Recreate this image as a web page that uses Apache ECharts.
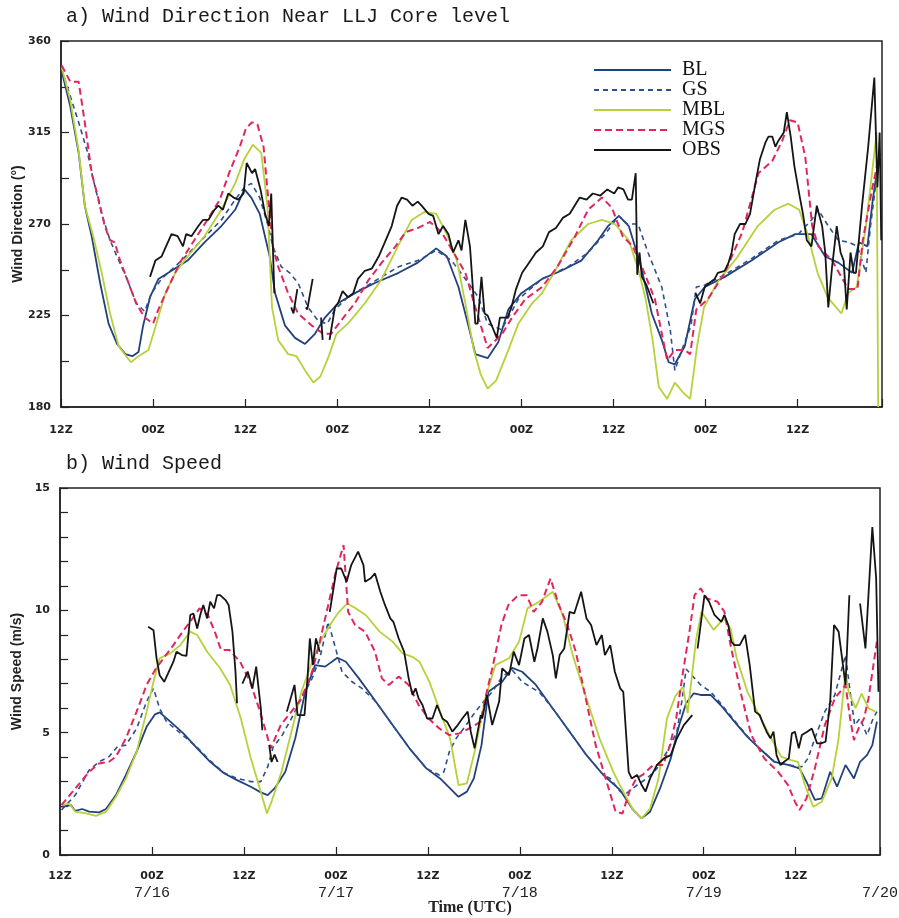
<!DOCTYPE html>
<html>
<head>
<meta charset="utf-8">
<script src="https://cdn.jsdelivr.net/npm/echarts@6/dist/echarts.min.js"></script>
<style>
html,body{margin:0;padding:0;background:#fff;}
#chart{width:899px;height:918px;}
</style>
</head>
<body>
<div id="chart"></div>
<script>
// ---------- tick labels ----------
const tickHours = [0, 12, 24, 36, 48, 60, 72, 84, 96];
const tickTimes = ['12Z', '00Z', '12Z', '00Z', '12Z', '00Z', '12Z', '00Z', '12Z'];
const tickDates = ['', '7/16', '', '7/17', '', '7/18', '', '7/19', ''];
const endHour = 107;
const endDate = '7/20';
const seriesNames = ['BL', 'GS', 'MBL', 'MGS', 'OBS'];

// ---------- a) wind direction (deg) : [hour since 7/15 12Z, value] ----------
const dirBL = [[0.1,345],[1.2,328],[2.3,305],[3.1,279],[4,264],[5.1,241],[6.2,221],[7.3,211],[8.4,206],[9.3,205],[10.1,207],[10.7,220],[11.6,234],[12.7,243],[14.4,247],[16.5,252],[18.7,261],[20.9,269],[22.7,277],[23.9,287],[24.8,283],[25.9,275],[27.2,254],[27.9,236],[29.2,220],[30.5,214],[31.8,211],[33.1,216],[34.4,224],[36.1,231],[38.3,236],[40.9,241],[44,246],[46.5,251],[48.9,258],[50.3,254],[51.8,239],[53.1,220],[54,206],[55.6,204],[57,212],[58.3,228],[60,236],[62.7,243],[65.2,247],[67.8,252],[70,262],[71.3,269],[72.7,274],[74,269],[75.6,249],[77,226],[78.3,213],[79.2,202],[80,201],[81.3,210],[82.6,233],[83.9,239],[86.5,244],[90,252],[93.5,261],[95.7,265],[97.8,265],[99.6,254],[101.3,251],[103.1,246],[104,261],[105.1,259],[105.8,282],[106.7,305]];
const dirGS = [[0.1,346],[1.2,333],[2.3,320],[3.4,306],[4.2,292],[5.3,275],[6.4,262],[7.3,254],[8.6,243],[9.8,231],[10.9,227],[11.8,236],[13.1,243],[15.7,252],[18.3,262],[20.9,272],[22.7,282],[23.9,288],[24.8,290],[25.9,283],[27,269],[27.6,259],[28.7,249],[29.8,246],[30.9,241],[32.2,229],[33.6,222],[34.7,221],[35.7,228],[37.4,234],[39.6,239],[44,249],[46.5,252],[48.9,257],[50.9,252],[52.7,243],[54.4,234],[55.6,221],[57.4,218],[58.3,224],[59.6,233],[62.7,243],[66.1,249],[68.7,256],[70.9,265],[72.7,274],[73.8,270],[75.2,270],[76.5,256],[78.3,239],[79.4,218],[80,198],[81.1,210],[82.1,220],[82.8,239],[83.9,240],[86.5,245],[90,253],[93.5,262],[96.1,265],[97.8,272],[98.7,277],[100,269],[101.3,262],[102.7,261],[103.8,259],[104.9,246],[105.5,269],[106.1,287],[106.7,303]];
const dirMBL = [[0.1,347],[1.2,331],[2.3,306],[3.1,279],[4.2,264],[5.3,246],[6.4,226],[7.5,210],[9.1,202],[10.1,205],[11.4,208],[12.2,218],[13.6,236],[14.9,246],[16.5,254],[18.7,264],[20.9,277],[22.7,290],[23.9,302],[25,309],[26.1,305],[26.9,279],[27.3,246],[27.5,229],[28.3,213],[29.6,206],[30.7,205],[31.8,198],[32.9,192],[33.8,195],[34.9,205],[35.9,216],[37.4,221],[39.6,231],[41.8,243],[43.9,259],[45.7,272],[47.4,276],[48.9,275],[50.3,265],[51.6,252],[52.7,231],[53.8,208],[54.7,196],[55.6,189],[56.7,193],[58.3,208],[59.6,221],[61.4,231],[62.7,236],[64.4,247],[66.5,262],[68.7,270],[70.5,272],[72.2,270],[74,262],[75.3,247],[76.2,233],[77.1,213],[77.9,190],[79,184],[80,192],[81.1,187],[82,184],[82.9,210],[83.8,229],[85.5,241],[88.2,254],[90.8,269],[93,277],[94.8,280],[96.2,277],[97.3,265],[98.6,246],[99.9,234],[101.7,226],[102.6,236],[103.7,239],[104.9,269],[105.7,295],[106.3,315],[106.5,180]];
const dirMGS = [[0.1,348],[1.2,340],[2.3,340],[3.1,320],[3.6,306],[4,295],[4.9,282],[5.7,269],[6.4,262],[7,261],[7.7,252],[8.8,241],[9.8,231],[10.9,224],[12,221],[12.7,228],[14,239],[15.5,251],[17.2,261],[18.9,271],[20.7,282],[21.9,295],[23.3,308],[24.1,317],[24.9,320],[25.6,319],[26.4,308],[26.9,287],[27.6,259],[28.3,249],[29.6,236],[30.9,226],[32.7,220],[34.2,216],[35.2,216],[36.6,223],[38.3,231],[40,242],[41.8,251],[43.6,259],[44.9,266],[46.5,268],[48.1,271],[49.6,266],[51,257],[52.7,246],[54,229],[55.6,209],[57.5,216],[58.8,224],[60.5,233],[62.7,239],[64.7,249],[67,264],[68.7,277],[70.5,283],[71.8,278],[73.2,264],[74.5,259],[75.7,249],[77.4,233],[79,203],[80,208],[81.3,208],[82,206],[82.8,228],[84.3,233],[86.5,246],[88.8,266],[90.9,295],[92.7,301],[94,311],[95,321],[96,320],[97,303],[97.9,269],[98.7,259],[100.5,252],[102.6,238],[103.8,238],[104.5,262],[105.7,287],[106.7,305]];
const dirOBS = [[11.6,244],[12.3,252],[13.1,254],[14.4,265],[15.2,264],[15.9,259],[16.3,265],[17,264],[17.9,269],[18.5,272],[19.2,272],[20,277],[20.5,279],[21.1,277],[21.8,285],[22.5,283],[23.1,282],[23.8,285],[24.2,300],[24.9,295],[25.3,297],[26,287],[26.6,275],[27.1,269],[27.4,285],[27.8,236],[28.9,'-'],
  [30,229],[30.3,226],[30.8,238],[31.4,'-'],
  [31.9,229],[32.1,228],[32.8,243],[33.3,'-'],
  [33.9,224],[34.1,213],[34.6,'-'],
  [35,213],[35.7,229],[36.1,231],[36.7,237],[37.4,234],[38.1,236],[38.7,243],[39.6,247],[40.5,248],[41.4,254],[42.2,261],[43.1,269],[43.8,279],[44.4,283],[45.1,282],[45.8,279],[46.5,281],[47,279],[47.9,275],[48.5,274],[49.2,265],[49.8,269],[50.5,265],[51.1,256],[51.8,262],[52.2,257],[52.7,272],[53.3,259],[54,221],[54.3,221],[54.8,244],[55.2,226],[55.6,225],[56.8,214],[57.2,224],[58.2,224],[58.7,229],[59.3,238],[60.1,246],[61,251],[61.9,256],[62.8,259],[63.6,266],[64.5,268],[65.4,273],[66.3,275],[67.6,283],[68.5,282],[69.3,285],[70.3,284],[71.2,287],[72.1,285],[72.6,288],[73.3,287],[73.9,282],[74.4,282],[74.9,295],[75.1,245],[75.4,256],[75.7,244],[76.3,240],[77.2,231],[80,'-'],
  [82.7,236],[83.3,231],[83.9,239],[84.5,241],[85.2,243],[85.6,246],[86.5,247],[87,251],[87.4,256],[87.8,265],[88.5,270],[89.2,270],[89.8,275],[90.5,290],[91.1,302],[91.8,310],[92.2,313],[92.7,313],[93.1,308],[93.5,311],[94.2,315],[94.6,325],[95.1,313],[95.6,298],[96.3,283],[96.7,275],[97.2,262],[97.8,259],[98.5,279],[99.2,269],[99.6,256],[100,229],[100.5,249],[101.1,269],[101.6,256],[102,252],[102.4,228],[102.9,256],[103.3,246],[103.6,246],[104.4,279],[105.2,308],[106,342],[106.4,288],[106.7,315],[106.9,262]];

// ---------- b) wind speed (m/s) ----------
const spdBL = [[0.2,1.97],[1.4,2.04],[2,1.8],[2.9,1.88],[3.8,1.77],[5.1,1.74],[6,1.88],[7.3,2.45],[8.6,3.27],[10,4.22],[11.3,5.24],[12.4,5.75],[13,5.83],[14.4,5.45],[16.1,4.97],[17.9,4.36],[19.6,3.81],[21.4,3.34],[23.1,3.06],[24.9,2.79],[26.2,2.56],[27.1,2.45],[28,2.72],[29.4,3.4],[30.7,4.77],[32,6.67],[33.3,7.76],[34.6,7.7],[36.2,8.06],[37.3,7.9],[39,7.22],[41.2,6.27],[43.4,5.31],[45.6,4.36],[47.8,3.54],[49.6,3.13],[50.9,2.72],[52,2.38],[53.1,2.59],[54,3.13],[55,4.49],[55.9,6.67],[57.7,7.08],[59,7.65],[60.3,7.49],[62.1,6.95],[64.3,5.99],[66.5,5.04],[68.7,4.08],[70.9,3.27],[73.1,2.65],[74.8,1.84],[75.9,1.5],[77,1.77],[78.3,2.72],[79.7,3.95],[80.8,5.31],[81.7,6.2],[82.7,6.61],[83.6,6.54],[84.9,6.54],[86.2,6.13],[88,5.45],[89.7,4.83],[91.5,4.29],[93.2,3.81],[95,3.68],[96.5,3.54],[97.4,3],[98.5,2.25],[99.4,2.31],[100.5,3.4],[101.4,2.79],[102.5,3.68],[103.6,3.13],[104.4,3.81],[105.3,4.08],[106,4.49],[106.6,5.45]];
const spdGS = [[0.2,1.84],[2,2.45],[3.8,3.47],[5.1,3.81],[6.4,4.02],[7.5,4.43],[8.6,4.49],[10,5.17],[11.3,6.27],[12.2,6.81],[13,5.99],[13.9,5.45],[15.2,5.11],[17.9,4.4],[19.6,3.85],[21.4,3.36],[23.1,3.13],[24.9,3],[26.2,3],[27.1,3.6],[27.8,4.4],[29,4.9],[30.2,5.58],[31.5,6.4],[32.9,7.22],[33.9,8.04],[35,9.53],[36.8,7.49],[38.1,7.08],[39.4,6.81],[41.2,6.27],[43.4,5.31],[45.6,4.36],[47.8,3.54],[49.5,3.27],[50.1,3.4],[50.8,4.22],[51.7,4.77],[53,5.31],[53.9,5.72],[54.9,6.13],[56.4,6.67],[57.7,7.29],[59,7.56],[60.3,7.08],[61.7,6.81],[62.5,6.67],[64.3,5.99],[66.5,5.04],[68.7,4.08],[70.9,3.27],[71.8,3.13],[73.1,2.59],[73.9,2.52],[75.3,2.86],[76.6,3.13],[77.9,3.54],[79.2,4.22],[80.5,5.04],[81.2,6.4],[81.7,7.6],[83.6,6.95],[84.9,6.67],[86.2,6.2],[88,5.5],[89.7,4.85],[91.5,4.3],[93.2,3.82],[95,3.68],[96.8,3.61],[97.6,3.95],[98.5,4.77],[99.8,5.86],[101.1,6.54],[102.5,8.17],[103.1,6.67],[103.7,5.31],[104.4,5.58],[105.3,4.9],[106.1,5.58],[106.6,5.86]];
const spdMBL = [[0.2,2.04],[1.2,2.1],[2,1.77],[3.4,1.7],[4.7,1.6],[6,1.77],[7.3,2.38],[8.6,3.13],[10,4.22],[11.3,5.86],[12.2,7.08],[13,8.04],[14.4,8.24],[15.7,8.58],[17,9.13],[17.9,8.99],[19.2,8.31],[20.9,7.63],[22.2,6.95],[23.6,5.58],[24.9,3.95],[26.2,2.59],[27,1.7],[27.6,2.18],[28.9,3.4],[30.2,5.04],[31.5,6.67],[32.9,7.9],[34.2,8.85],[35.5,9.53],[36.4,9.94],[37.5,10.28],[38.6,10.08],[39.9,9.81],[41.7,9.13],[43.4,8.72],[44.7,8.24],[46,8.1],[46.9,7.9],[48.2,7.08],[49.6,5.86],[50.9,4.77],[52,2.86],[53.1,2.93],[54.1,4.22],[55.5,6.4],[56.8,7.76],[58.6,8.04],[59.9,8.72],[61,10.08],[62.5,10.35],[64.3,10.76],[65.6,9.81],[66.9,8.17],[68.7,6.4],[70.4,4.77],[72.2,3.4],[73.5,2.59],[74.8,1.84],[75.9,1.5],[77,1.9],[78.1,3.13],[79.2,5.58],[80.3,6.5],[81.3,6.87],[81.9,5.8],[83,8.8],[83.7,9.94],[85.3,9.2],[86.6,9.67],[87.5,9.26],[88.3,8.04],[89.7,6.67],[91,5.86],[92.8,4.77],[94.1,4.02],[95.4,3.88],[96.3,3.81],[97.2,2.86],[98.3,1.97],[99.4,2.18],[100.7,3.13],[101.6,4.77],[102.5,7.49],[102.9,6.67],[103.8,6],[104.6,6.6],[105.5,6],[106.4,5.86]];
const spdMGS = [[0.2,2.04],[2,2.72],[3.8,3.4],[5.1,3.74],[6.4,3.81],[7.3,4.02],[8.6,4.77],[10,5.86],[11.3,6.95],[12.4,7.56],[13.5,8.04],[14.8,8.58],[16,9.13],[17.3,9.67],[18.2,10.08],[19.3,9.81],[20.2,9.13],[21,8.38],[22.1,8.38],[23.5,7.9],[24.8,7.08],[26.1,5.86],[27,4.9],[27.5,4.36],[28.8,5.31],[30.2,5.86],[31.5,6.4],[32.9,7.49],[33.9,8.72],[35,10.22],[36,11.58],[37,12.67],[37.6,9.94],[38.5,9.4],[39.8,9.13],[41.1,8.31],[42,7.22],[42.9,6.95],[44.2,7.29],[45.5,6.95],[46.8,6.13],[48.1,5.58],[49.5,5.17],[50.8,4.9],[52.1,4.97],[53.4,5.17],[54.9,5.45],[55.4,6.27],[56.5,7.76],[57.6,9.4],[58.5,10.22],[59.8,10.62],[60.9,10.62],[61.8,9.94],[62.9,10.35],[64,11.3],[65.1,10.22],[66.2,9.4],[67.3,8.31],[68.6,6.4],[69.9,4.49],[71.2,3.13],[72.5,1.77],[73.4,1.7],[74.3,2.59],[75.2,3.13],[76,3.27],[77.4,3.68],[78.7,3.68],[79.6,4.49],[80.4,5.58],[81.3,7.49],[82.2,9.26],[82.8,10.62],[83.6,10.9],[84.4,10.49],[85.8,10.35],[86.7,9.94],[87.5,8.58],[88.8,6.67],[90.2,4.9],[91.9,3.95],[93.7,3.4],[95,2.86],[95.9,2.18],[96.5,1.84],[97.4,2.31],[98.5,3.54],[99.8,5.31],[101.1,6.4],[102.5,6.95],[103.1,5.58],[103.6,4.7],[104.2,5.17],[104.9,5.58],[105.5,6.4],[106.4,8.31],[106.6,8.72]];
const spdOBS = [[11.5,9.33],[12.2,9.19],[12.6,8.04],[13,7.35],[13.6,7.08],[14.1,7.42],[14.8,7.9],[15.2,8.31],[15.9,8.17],[16.5,8.14],[17,9.81],[17.4,9.87],[17.9,9.26],[18.3,9.81],[18.7,10.22],[19.2,9.67],[19.6,10.35],[20.1,10.08],[20.5,10.62],[20.9,10.62],[21.6,10.42],[22,10.22],[22.5,9.13],[22.9,7.49],[23.1,6.2],[23.5,'-'],
  [23.8,7.0],[24.5,7.5],[25.1,6.8],[25.6,7.7],[26.2,6.0],[26.4,5.1],[26.9,'-'],
  [27.3,4.5],[27.6,3.8],[28,4.1],[28.4,3.8],[29,'-'],
  [29.6,5.86],[30.6,6.95],[31,5.72],[31.9,5.72],[32.3,7.22],[32.6,8.85],[33,7.76],[33.4,8.85],[33.9,8.31],[34.5,'-'],
  [35.2,9.94],[36.1,11.71],[36.7,11.71],[37.4,11.17],[38,11.85],[38.9,12.4],[39.6,11.85],[39.8,11.17],[40.5,11.3],[41.1,11.51],[41.8,10.76],[42.4,10.22],[43.1,9.67],[43.5,9.53],[44.2,8.85],[44.9,8.31],[45.5,7.22],[46,6.54],[46.4,6.81],[46.8,6.4],[47.3,6.13],[47.9,5.58],[48.6,5.58],[49.2,6.13],[49.9,5.58],[50.5,5.45],[51.2,5.04],[51.9,5.31],[52.5,5.58],[53.2,5.86],[53.6,5.04],[54.1,4.36],[54.9,5.72],[55.1,5.58],[55.7,6.54],[56.4,5.31],[57.3,6.27],[57.7,7.63],[58.6,7.35],[59.2,8.31],[59.9,7.76],[60.6,8.85],[61.2,8.99],[61.9,7.9],[62.3,8.44],[63,9.67],[63.6,9.13],[64.3,8.17],[64.7,7.22],[65.2,8.17],[65.8,8.44],[66.5,9.94],[67.1,9.87],[68,10.76],[68.7,9.67],[69.3,9.4],[70,8.58],[70.7,8.99],[71.1,8.17],[71.8,8.58],[72.4,7.49],[73.1,6.81],[73.5,6.67],[74.2,3.4],[74.6,3.13],[75.3,3.27],[75.9,2.86],[76.4,2.59],[77,3.13],[77.9,3.68],[78.8,3.95],[79.7,4.08],[80.5,4.77],[81.4,5.31],[82.5,5.72],[82.9,'-'],
  [83.2,8.44],[84.1,10.62],[84.7,10.35],[85.4,9.81],[86.3,9.53],[86.7,9.81],[87.2,9.4],[87.6,8.72],[88,8.58],[88.7,8.58],[89.4,9],[90,7.76],[90.7,5.86],[91.3,5.72],[91.7,5.4],[92.2,5.04],[92.7,4.77],[93.1,5.04],[93.5,4.08],[94,3.68],[94.5,3.81],[95.1,3.95],[95.5,4.97],[95.9,5.04],[96.4,4.36],[96.8,4.9],[97.5,5.04],[98.1,5.17],[98.8,4.56],[99.3,4.56],[99.9,4.63],[100.5,6.27],[101,9.4],[101.6,9.13],[102.5,6.95],[103,10.62],[103.7,'-'],
  [104.4,10.28],[105.1,8.44],[106,13.4],[106.5,11.3],[106.8,6.67]];

const colors = {BL:'#21417d', GS:'#2e4f8c', MBL:'#b7d13a', MGS:'#e2265d', OBS:'#151515'};
const lineStyles = {
  BL:{width:1.8, type:'solid'},
  GS:{width:1.6, type:[5,4]},
  MBL:{width:1.8, type:'solid'},
  MGS:{width:2, type:[7,4]},
  OBS:{width:1.8, type:'solid'}
};

const tickFont = {fontFamily:'DejaVu Sans', fontWeight:'bold', fontSize:11, color:'#222'};

function topLabel(v){
  const i = tickHours.indexOf(v);
  return i >= 0 ? tickTimes[i] : '';
}
function bottomLabel(v){
  if (v === endHour) return '{t| }\n{d|' + endDate + '}';
  const i = tickHours.indexOf(v);
  if (i < 0) return '';
  return '{t|' + tickTimes[i] + '}\n{d|' + (tickDates[i] || ' ') + '}';
}

function mkX(grid, isBottom){
  return {
    type:'value', gridIndex:grid, min:0, max:endHour, interval:12,
    axisLine:{show:true, lineStyle:{color:'#222', width:1.5}},
    axisTick:{show:true, inside:true, length:8, lineStyle:{color:'#222', width:1.2}},
    splitLine:{show:false},
    axisLabel: isBottom ? {
      formatter: bottomLabel, margin:15,
      rich:{
        t:{fontFamily:'DejaVu Sans', fontWeight:'bold', fontSize:11, color:'#222', lineHeight:12},
        d:{fontFamily:'Liberation Mono', fontSize:15, color:'#222', lineHeight:22}
      }
    } : Object.assign({formatter: topLabel, margin:18}, tickFont),
    name: isBottom ? 'Time (UTC)' : '',
    nameLocation:'middle', nameGap:45, nameMoveOverlap:false,
    nameTextStyle:{fontFamily:'Liberation Serif', fontWeight:'bold', fontSize:16, color:'#222'}
  };
}
function mkY(grid, min, max, interval, split, name){
  return {
    type:'value', gridIndex:grid, min:min, max:max, interval:interval,
    axisLine:{show:true, lineStyle:{color:'#222', width:1.5}},
    axisTick:{show:true, inside:true, length:8, lineStyle:{color:'#222', width:1.2}},
    minorTick:{show:true, splitNumber:split, length:8, lineStyle:{color:'#222', width:1.2}},
    splitLine:{show:false},
    axisLabel:Object.assign({margin:10}, tickFont),
    name:name, nameLocation:'middle', nameGap:36, nameMoveOverlap:false,
    nameTextStyle:{fontFamily:'Liberation Sans', fontWeight:'bold', fontSize:14, color:'#222'}
  };
}

const dirData = {BL:dirBL, GS:dirGS, MBL:dirMBL, MGS:dirMGS, OBS:dirOBS};
const spdData = {BL:spdBL, GS:spdGS, MBL:spdMBL, MGS:spdMGS, OBS:spdOBS};
const series = [];
[[dirData,0],[spdData,1]].forEach(([set, idx]) => {
  seriesNames.forEach((n, k) => {
    series.push({
      type:'line', name:n, xAxisIndex:idx, yAxisIndex:idx,
      data:set[n], symbol:'none', showSymbol:false, connectNulls:false,
      color:colors[n],
      lineStyle:Object.assign({color:colors[n]}, lineStyles[n]),
      z: 2 + k, animation:false
    });
  });
});

const chart = echarts.init(document.getElementById('chart'), null, {renderer:'canvas'});
chart.setOption({
  backgroundColor:'#fff',
  animation:false,
  title:[
    {text:'a) Wind Direction Near LLJ Core level', left:66, top:7, padding:0,
     textStyle:{fontFamily:'Liberation Mono', fontSize:20, fontWeight:'normal', color:'#1a1a1a'}},
    {text:'b) Wind Speed', left:66, top:454, padding:0,
     textStyle:{fontFamily:'Liberation Mono', fontSize:20, fontWeight:'normal', color:'#1a1a1a'}}
  ],
  legend:{
    data:seriesNames, orient:'vertical', left:593, top:60, padding:0,
    itemWidth:77, itemHeight:14, itemGap:0,
    itemStyle:{opacity:0},
    textStyle:{fontFamily:'Liberation Serif', fontSize:20, color:'#111', lineHeight:19, padding:[0,0,0,6]},
    selectedMode:false
  },
  grid:[
    {left:61, right:17, top:41, height:366, show:true, borderColor:'#222', borderWidth:1.5, containLabel:false, outerBoundsMode:'none'},
    {left:60, right:19, top:488, height:367, show:true, borderColor:'#222', borderWidth:1.5, containLabel:false, outerBoundsMode:'none'}
  ],
  xAxis:[mkX(0,false), mkX(1,true)],
  yAxis:[mkY(0,180,360,45,2,'Wind Direction (°)'), mkY(1,0,15,5,5,'Wind Speed (m/s)')],
  series:series
});
</script>
</body>
</html>
